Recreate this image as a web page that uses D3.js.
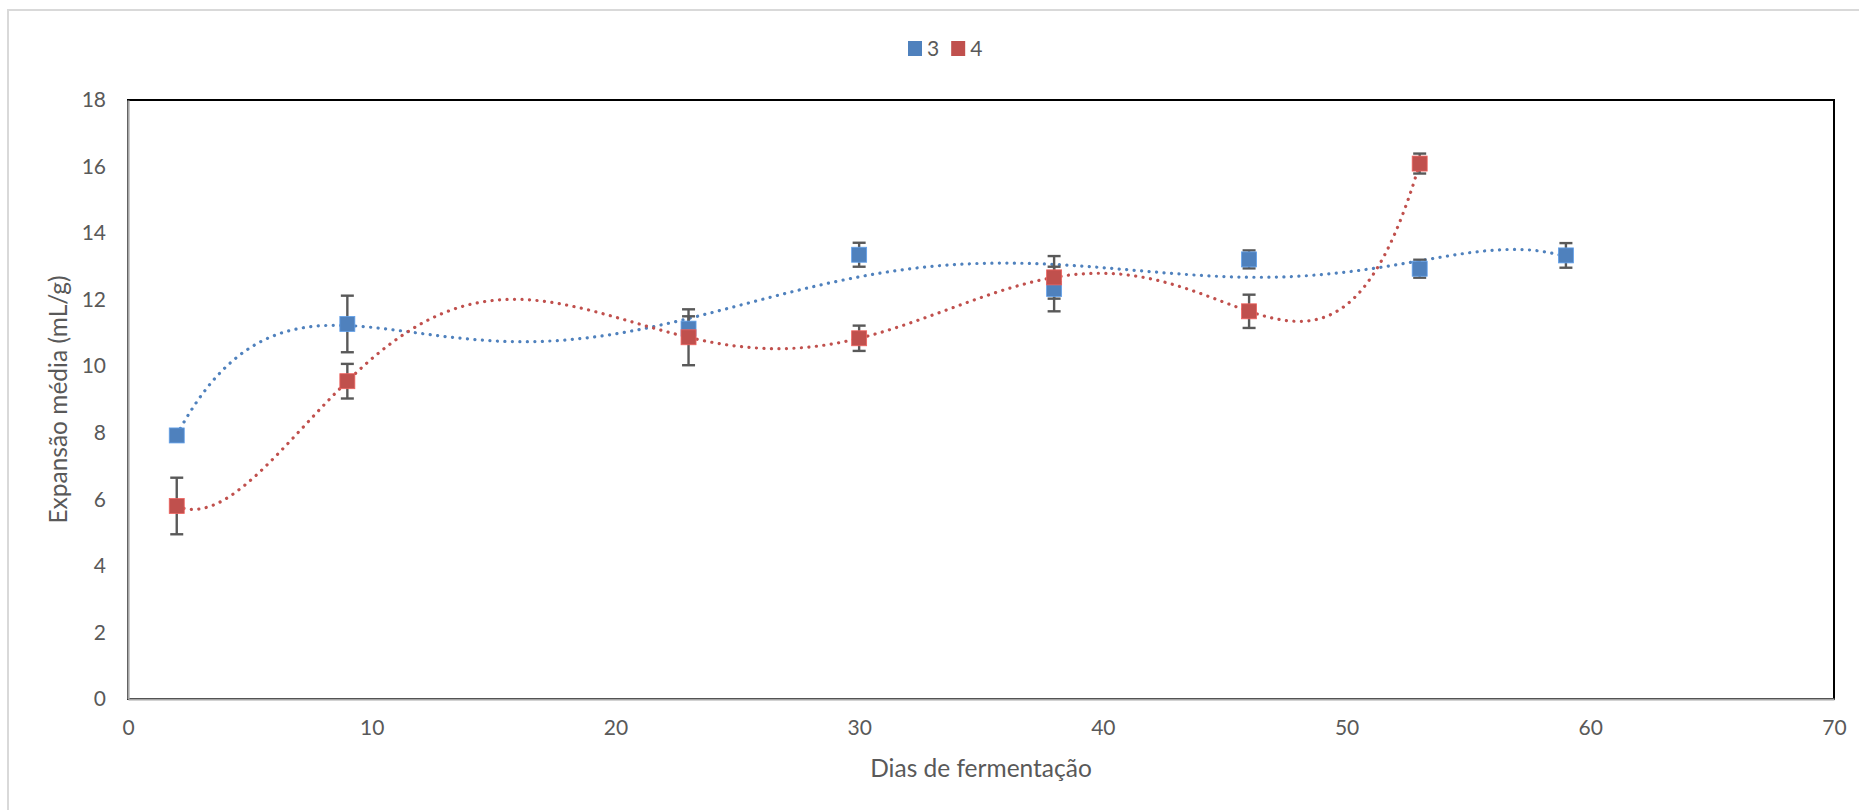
<!DOCTYPE html>
<html><head><meta charset="utf-8">
<script src="https://cdn.jsdelivr.net/npm/d3@7"></script>
<style>html,body{margin:0;padding:0;background:#fff;overflow:hidden}</style>
</head><body>
<svg id="c" width="1859" height="810"></svg>
<script>
// ---- data ----
const days3 = [2, 9, 23, 30, 38, 46, 53, 59];
const values3 = [7.92, 11.27, 11.13, 13.35, 12.32, 13.21, 12.93, 13.33];
const errors3 = [0.12, 0.85, 0.37, 0.36, 0.67, 0.27, 0.27, 0.37];
const days4 = [2, 9, 23, 30, 38, 46, 53];
const values4 = [5.80, 9.55, 10.87, 10.84, 12.67, 11.65, 16.09];
const errors4 = [0.85, 0.52, 0.84, 0.38, 0.64, 0.50, 0.30];
const seriesNames = ["3", "4"];
const seriesColors = ["#4F81BD", "#C0504D"];
const xTicks = [0, 10, 20, 30, 40, 50, 60, 70];
const yTicks = [0, 2, 4, 6, 8, 10, 12, 14, 16, 18];
const xTitle = "Dias de fermentação";
const yTitle = "Expansão média (mL/g)";
const trendOrder = 6; // polynomial trendline order

// ---- layout ----
const FONT = "Lato, 'Open Sans', sans-serif";
const TXT = "#595959";
const L = 128, R = 1834, T = 100, B = 699;
const svg = d3.select("#c");

const x = d3.scaleLinear().domain([0, 70]).range([L, R]);
const y = d3.scaleLinear().domain([0, 18]).range([B, T]);

// outer chart border
svg.append("rect").attr("x", 8).attr("y", 10).attr("width", 1870).attr("height", 820)
  .attr("fill", "#fff").attr("stroke", "#d9d9d9").attr("stroke-width", 2);

// plot area border
svg.append("rect").attr("x", L).attr("y", T).attr("width", R - L).attr("height", B - T)
  .attr("fill", "none").attr("stroke", "#000").attr("stroke-width", 2);

// axes (no tick marks)
const yAxis = d3.axisLeft(y).tickValues(yTicks).tickSize(0).tickPadding(22).tickFormat(d3.format("d"));
const xAxis = d3.axisBottom(x).tickValues(xTicks).tickSize(0).tickPadding(21).tickFormat(d3.format("d"));
const gy = svg.append("g").attr("transform", `translate(${L},0)`).call(yAxis);
const gx = svg.append("g").attr("transform", `translate(0,${B})`).call(xAxis);
[gx, gy].forEach(g => {
  g.select(".domain").attr("stroke", "#a6a6a6").attr("stroke-width", 2.2);
  g.selectAll("text").attr("fill", TXT).style("font-family", FONT).style("font-size", "21px");
});

// axis titles
svg.append("text").attr("x", (L + R) / 2).attr("y", 777).attr("text-anchor", "middle")
  .attr("fill", TXT).style("font-family", FONT).style("font-size", "24.5px").text(xTitle);
svg.append("text").attr("transform", `translate(67,${(T + B) / 2}) rotate(-90)`).attr("text-anchor", "middle")
  .attr("fill", TXT).style("font-family", FONT).style("font-size", "24.5px").text(yTitle);

// ---- polynomial trendline (least squares) ----
function polyfit(xs, ys, order) {
  const c = 30, s = 30, m = order + 1;
  const M = Array.from({length: m}, () => new Array(m).fill(0));
  const b = new Array(m).fill(0);
  xs.forEach((xv, i) => {
    const t = (xv - c) / s;
    const p = []; for (let k = 0; k < m; k++) p.push(Math.pow(t, k));
    for (let r = 0; r < m; r++) { b[r] += p[r] * ys[i]; for (let q = 0; q < m; q++) M[r][q] += p[r] * p[q]; }
  });
  for (let col = 0; col < m; col++) {
    let piv = col;
    for (let r = col + 1; r < m; r++) if (Math.abs(M[r][col]) > Math.abs(M[piv][col])) piv = r;
    [M[col], M[piv]] = [M[piv], M[col]]; [b[col], b[piv]] = [b[piv], b[col]];
    for (let r = col + 1; r < m; r++) {
      const f = M[r][col] / M[col][col];
      for (let q = col; q < m; q++) M[r][q] -= f * M[col][q];
      b[r] -= f * b[col];
    }
  }
  const a = new Array(m).fill(0);
  for (let r = m - 1; r >= 0; r--) {
    let sum = b[r]; for (let q = r + 1; q < m; q++) sum -= M[r][q] * a[q];
    a[r] = sum / M[r][r];
  }
  return xv => { const t = (xv - c) / s; let v = 0; for (let k = m - 1; k >= 0; k--) v = v * t + a[k]; return v; };
}

const series = [
  {name: seriesNames[0], color: seriesColors[0], xs: days3, ys: values3, es: errors3},
  {name: seriesNames[1], color: seriesColors[1], xs: days4, ys: values4, es: errors4}
];

const line = d3.line().x(d => x(d[0])).y(d => y(d[1]));
series.forEach(s => {
  const f = polyfit(s.xs, s.ys, trendOrder);
  const x0 = d3.min(s.xs), x1 = d3.max(s.xs);
  const pts = d3.range(0, 401).map(i => { const xv = x0 + (x1 - x0) * i / 400; return [xv, f(xv)]; });
  svg.append("path").attr("d", line(pts)).attr("fill", "none").attr("stroke", s.color)
    .attr("stroke-width", 3.2).attr("stroke-linecap", "round").attr("stroke-dasharray", "0.1 7.4");
});

// error bars
const CAP = 6.5;
series.forEach(s => {
  const g = svg.append("g").attr("stroke", "#595959").attr("stroke-width", 2.4).attr("fill", "none");
  s.xs.forEach((xv, i) => {
    const cx = x(xv), yt = y(s.ys[i] + s.es[i]), yb = y(s.ys[i] - s.es[i]);
    g.append("line").attr("x1", cx).attr("x2", cx).attr("y1", yt).attr("y2", yb);
    g.append("line").attr("x1", cx - CAP).attr("x2", cx + CAP).attr("y1", yt).attr("y2", yt);
    g.append("line").attr("x1", cx - CAP).attr("x2", cx + CAP).attr("y1", yb).attr("y2", yb);
  });
});

// markers
const MS = 15;
series.forEach(s => {
  svg.append("g").selectAll("rect").data(s.xs.map((xv, i) => [xv, s.ys[i]])).join("rect")
    .attr("x", d => x(d[0]) - MS / 2).attr("y", d => y(d[1]) - MS / 2)
    .attr("width", MS).attr("height", MS).attr("fill", s.color)
    .attr("stroke", d3.color(s.color).brighter(0.6)).attr("stroke-width", 0.8);
});

// legend
const lg = svg.append("g");
let lx = 908;
series.forEach(s => {
  lg.append("rect").attr("x", lx).attr("y", 41).attr("width", 14).attr("height", 15).attr("fill", s.color);
  const t = lg.append("text").attr("x", lx + 19).attr("y", 56).attr("fill", TXT)
    .style("font-family", FONT).style("font-size", "21px").text(s.name);
  lx += 19 + t.node().getComputedTextLength() + 12;
});
</script>
</body></html>
